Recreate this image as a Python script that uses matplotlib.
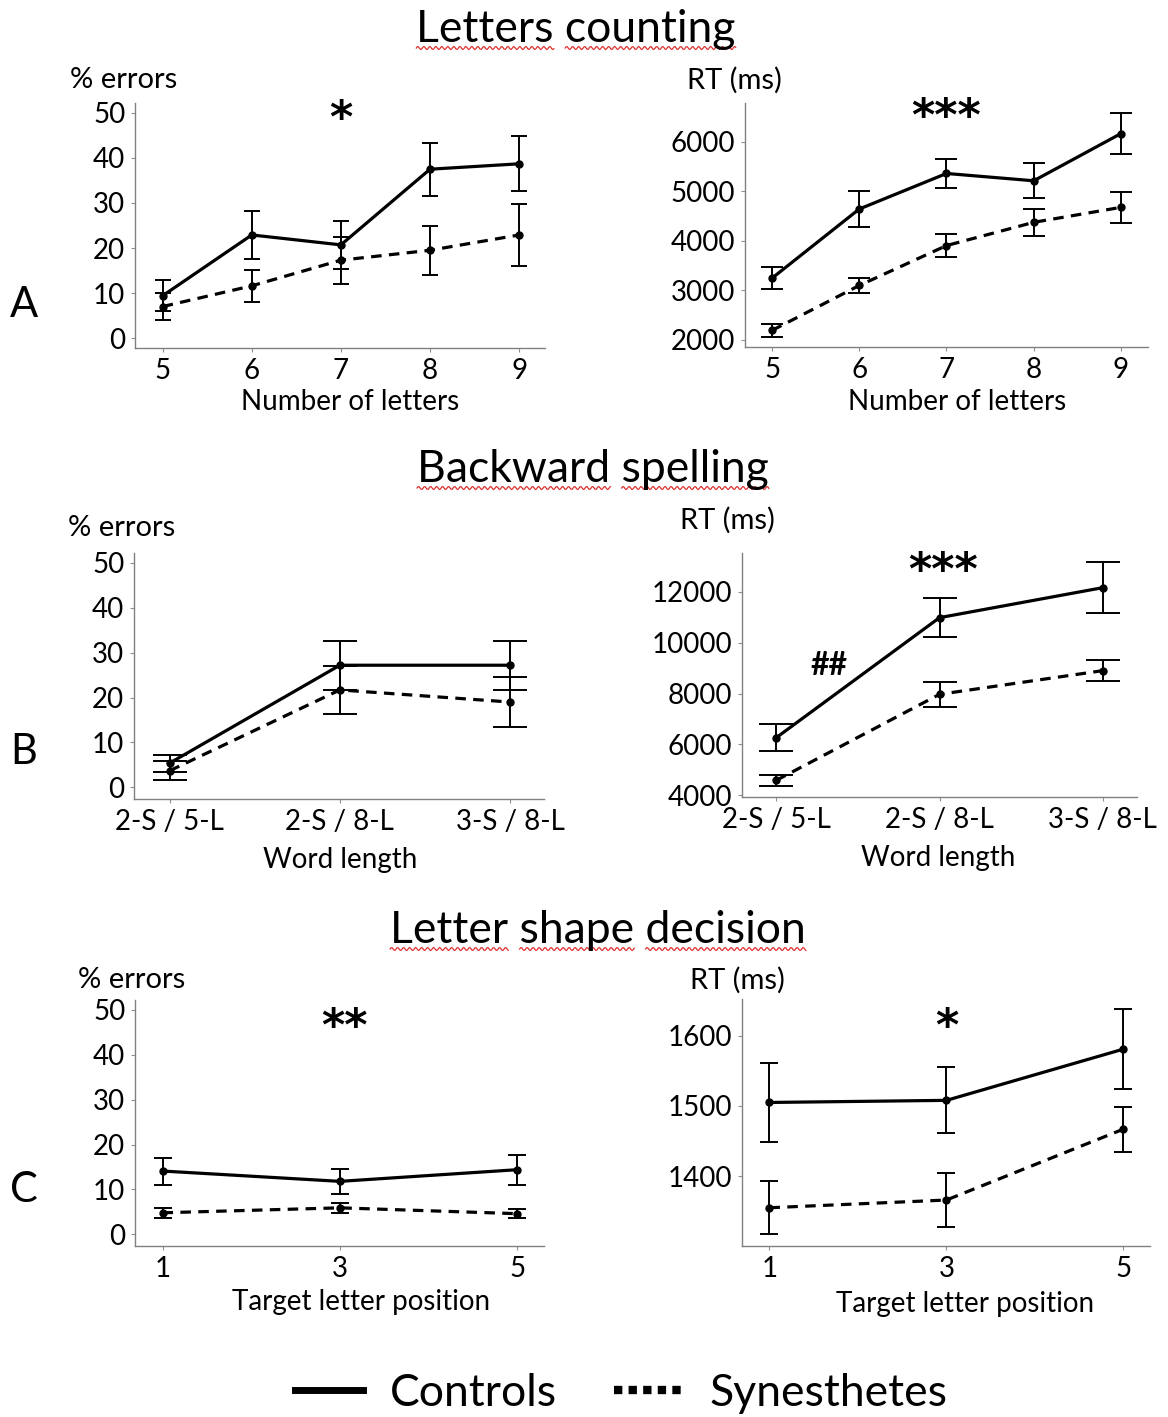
import matplotlib
matplotlib.use('Agg')
import matplotlib.pyplot as plt
import numpy as np
from matplotlib.lines import Line2D

plt.rcParams['font.family'] = ['Lato', 'DejaVu Sans']

# ---- data ----
n_letters = [5, 6, 7, 8, 9]
cnt_err_ctrl = [9.4, 22.9, 20.7, 37.5, 38.7]
cnt_err_ctrl_se = [3.4, 5.4, 5.4, 5.9, 6.1]
cnt_err_syn = [7.0, 11.6, 17.3, 19.5, 22.9]
cnt_err_syn_se = [3.0, 3.5, 5.2, 5.4, 6.9]
cnt_rt_ctrl = [3244, 4642, 5361, 5213, 6168]
cnt_rt_ctrl_se = [225, 370, 285, 353, 417]
cnt_rt_syn = [2188, 3096, 3903, 4373, 4676]
cnt_rt_syn_se = [128, 145, 238, 272, 310]

word_labels = ['2-S / 5-L', '2-S / 8-L', '3-S / 8-L']
bs_err_ctrl = [5.4, 27.2, 27.2]
bs_err_ctrl_se = [1.9, 5.5, 5.5]
bs_err_syn = [3.7, 21.7, 19.0]
bs_err_syn_se = [2.1, 5.4, 5.5]
bs_rt_ctrl = [6269, 10990, 12170]
bs_rt_ctrl_se = [530, 770, 1010]
bs_rt_syn = [4590, 7974, 8905]
bs_rt_syn_se = [210, 485, 420]

target_pos = [1, 3, 5]
ls_err_ctrl = [14.1, 11.8, 14.4]
ls_err_ctrl_se = [3.0, 2.8, 3.3]
ls_err_syn = [4.8, 5.9, 4.6]
ls_err_syn_se = [1.1, 1.05, 1.05]
ls_rt_ctrl = [1505, 1508, 1581]
ls_rt_ctrl_se = [56, 47, 57]
ls_rt_syn = [1355, 1366, 1467]
ls_rt_syn_se = [38, 38, 32]

W, H = 1168, 1417
fig = plt.figure(figsize=(W / 100, H / 100), dpi=100)


def box(x0, y0, x1, y1):
    return [x0 / W, 1 - y1 / H, (x1 - x0) / W, (y1 - y0) / H]


def fx(x):
    return x / W


def fy(y):
    return 1 - y / H


DASH = (0, (3.3, 2.3))


def panel(rect, x, c, cse, s, sse, xlim, ylim, yticks, cap, xticklabels=None):
    ax = fig.add_axes(rect)
    ax.errorbar(x, c, yerr=cse, color='black', lw=2.3, marker='o', ms=5,
                elinewidth=1.4, capsize=cap, capthick=1.4)
    ax.errorbar(x, s, yerr=sse, color='black', lw=2.3, ls=DASH, marker='o', ms=5,
                elinewidth=1.4, capsize=cap, capthick=1.4)
    ax.set_xlim(*xlim)
    ax.set_ylim(*ylim)
    ax.set_yticks(yticks)
    ax.set_xticks(x)
    if xticklabels is not None:
        ax.set_xticklabels(xticklabels)
    for sp in ['top', 'right']:
        ax.spines[sp].set_visible(False)
    for sp in ['left', 'bottom']:
        ax.spines[sp].set_color('#808080')
        ax.spines[sp].set_linewidth(1.0)
    ax.tick_params(labelsize=20, length=3, width=0.8, color='#909090', pad=4)
    return ax


xw = [0, 1, 2]

a1 = panel(box(135, 103, 545, 348), n_letters, cnt_err_ctrl, cnt_err_ctrl_se,
           cnt_err_syn, cnt_err_syn_se, (4.69, 9.29), (-2.2, 52.2), range(0, 51, 10), 6)
a2 = panel(box(745, 103, 1148, 347), n_letters, cnt_rt_ctrl, cnt_rt_ctrl_se,
           cnt_rt_syn, cnt_rt_syn_se, (4.69, 9.31), (1852, 6786), range(2000, 6001, 1000), 8)
b1 = panel(box(134, 553, 544, 799), xw, bs_err_ctrl, bs_err_ctrl_se,
           bs_err_syn, bs_err_syn_se, (-0.21, 2.2), (-2.6, 52.2), range(0, 51, 10), 12, word_labels)
b2 = panel(box(742, 553, 1137, 797), xw, bs_rt_ctrl, bs_rt_ctrl_se,
           bs_rt_syn, bs_rt_syn_se, (-0.21, 2.21), (3934, 13534), range(4000, 12001, 2000), 12, word_labels)
c1 = panel(box(135, 1000, 544, 1246), target_pos, ls_err_ctrl, ls_err_ctrl_se,
           ls_err_syn, ls_err_syn_se, (0.69, 5.30), (-2.6, 52.2), range(0, 51, 10), 6.5)
c2 = panel(box(742, 999, 1150, 1246), target_pos, ls_rt_ctrl, ls_rt_ctrl_se,
           ls_rt_syn, ls_rt_syn_se, (0.69, 5.30), (1300.5, 1652.4), [1400, 1500, 1600], 6.5)

# significance marks
star_kw = dict(ha='center', va='center', fontsize=32, fontweight='bold', family='DejaVu Sans')
a1.text(7, 48.5, '*', **star_kw)
a2.text(7, 6500, '***', **star_kw)
b2.text(1.02, 12800, '***', **star_kw)
b2.text(0.32, 9115, '##', ha='center', va='center', fontsize=23, fontweight='bold')
c1.text(3.05, 46.0, '**', **star_kw)
c2.text(3, 1612, '*', **star_kw)

# y labels
lab = dict(fontsize=21, va='center', ha='left')
fig.text(fx(70), fy(80), '% errors', **lab)
fig.text(fx(687), fy(80), 'RT (ms)', **lab)
fig.text(fx(68), fy(528), '% errors', **lab)
fig.text(fx(680), fy(520), 'RT (ms)', **lab)
fig.text(fx(78), fy(980), '% errors', **lab)
fig.text(fx(690), fy(980), 'RT (ms)', **lab)

# x labels
xl = dict(fontsize=20, va='center', ha='center')
fig.text(fx(350), fy(402), 'Number of letters', **xl)
fig.text(fx(957), fy(402), 'Number of letters', **xl)
fig.text(fx(340), fy(860), 'Word length', **xl)
fig.text(fx(938), fy(858), 'Word length', **xl)
fig.text(fx(361), fy(1302), 'Target letter position', **xl)
fig.text(fx(965), fy(1304), 'Target letter position', **xl)

# row letters
for letter, yy in [('A', 305), ('B', 752), ('C', 1190)]:
    fig.text(fx(24), fy(yy), letter, fontsize=30, ha='center', va='center')

# section titles with red squiggly underline
renderer = fig.canvas.get_renderer()
titles = [('Letters counting', 576, 42), ('Backward spelling', 593, 482),
          ('Letter shape decision', 598, 943)]
for title, cx, base in titles:
    t = fig.text(fx(cx), fy(base), title, fontsize=32, ha='center', va='baseline')
    bb = t.get_window_extent(renderer)
    x0 = bb.x0
    pos = 0
    for word in title.split(' '):
        start = title.index(word, pos)
        pre_w = renderer.get_text_width_height_descent(title[:start], t.get_fontproperties(), ismath=False)[0] if start else 0
        w_w = renderer.get_text_width_height_descent(word, t.get_fontproperties(), ismath=False)[0]
        pos = start + len(word)
        xs = np.linspace(x0 + pre_w, x0 + pre_w + w_w, int(w_w))
        ys = (H - base - 6) + 1.5 * np.sin((xs - xs[0]) * 2 * np.pi / 6)
        fig.add_artist(Line2D(xs / W, ys / H, color='#e03030', lw=0.9))

# legend
handles = [Line2D([], [], color='black', lw=5),
           Line2D([], [], color='black', lw=6, ls=(0, (1, 0.75)))]
fig.legend(handles, ['Controls', 'Synesthetes'], loc='center',
           bbox_to_anchor=(fx(621), fy(1393)), ncol=2, frameon=False,
           fontsize=32, handlelength=1.53, handletextpad=0.6, columnspacing=1.3)

fig.savefig('out.png', dpi=100)
